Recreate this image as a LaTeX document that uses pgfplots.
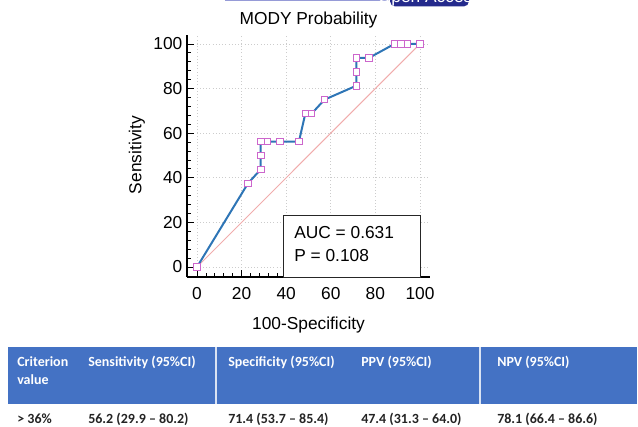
\documentclass[border=0pt]{standalone}
\usepackage{fontspec}
\setmainfont{Liberation Sans}
\newfontfamily\carlito{Carlito}
\usepackage{pgfplots}
\pgfplotsset{compat=1.18}
\definecolor{rocblue}{RGB}{46,117,182}
\definecolor{markpink}{RGB}{204,102,204}
\definecolor{diagpink}{RGB}{240,172,172}
\definecolor{hdrblue}{RGB}{68,114,196}
\definecolor{badge}{RGB}{36,42,140}
\definecolor{stripe}{RGB}{150,155,215}
\definecolor{celltext}{RGB}{35,35,35}
\newcommand\chartfont{\fontsize{13}{15}\selectfont}
\newcommand\tablefont{\carlito\bfseries\fontsize{10.5}{12}\selectfont}

\begin{document}
\begin{tikzpicture}
% 1 px of the reference = 0.75pt
\useasboundingbox (0,0) rectangle (478.5pt,319.5pt);
\clip (0,0) rectangle (478.5pt,319.5pt);

\begin{scope}[x=0.75pt,y=0.75pt]
% page strip at the top
\draw[stripe, line width=0.8pt] (225,425.6) -- (389,425.6);
\fill[badge, rounded corners=4pt] (390,419.5) rectangle (469,440);
\node[white, font=\chartfont, anchor=base] at (429.5,423) {Open Access};
\node[font=\chartfont, anchor=base] at (308.5,402) {MODY Probability};
\end{scope}

\begin{axis}[
  at={(140.25pt,111.75pt)}, anchor=south west,
  scale only axis, width=182.25pt, height=181.5pt,
  xmin=-4.5, xmax=104.5, ymin=-4.5, ymax=104,
  axis x line*=bottom, axis y line*=left,
  axis line style={line width=0.9pt},
  xtick={0,20,...,100}, ytick={0,20,...,100},
  minor xtick={4,8,12,16,24,28,32,36,44,48,52,56,64,68,72,76,84,88,92,96},
  minor ytick={4,8,12,16,24,28,32,36,44,48,52,56,64,68,72,76,84,88,92,96},
  tick align=inside,
  major tick length=5pt, minor tick length=3pt,
  tick style={black, line width=0.6pt},
  grid=major, major grid style={dotted, black!20, line width=0.5pt},
  minor grid style={draw=none},
  ticklabel style={font=\chartfont},
  /pgf/number format/assume math mode=true,
  xticklabel style={yshift=-4pt},
  clip=false,
]
\addplot[diagpink, line width=0.75pt, forget plot] coordinates {(0,0) (100,100)};
\addplot[rocblue, line width=1.5pt, mark=square*, mark size=2.4pt,
  mark options={draw=markpink, fill=white, line width=0.6pt}] coordinates {
  (0,0) (22.857,37.5) (28.571,43.75) (28.571,50) (28.571,56.25)
  (31.429,56.25) (37.143,56.25) (45.714,56.25) (48.571,68.75)
  (51.429,68.75) (57.143,75) (71.429,81.25) (71.429,87.5)
  (71.429,93.75) (77.143,93.75) (88.571,100) (91.429,100)
  (94.286,100) (100,100)};
\draw[black!85, line width=0.7pt, fill=white] (axis cs:38.7,-4.5) rectangle (axis cs:100,23.3);
\node[anchor=base west, inner sep=0, font=\chartfont] at (axis cs:43.5,12.9) {AUC = 0.631};
\node[anchor=base west, inner sep=0, font=\chartfont] at (axis cs:43.5,2.4) {P = 0.108};
\end{axis}

\begin{scope}[x=0.75pt,y=0.75pt]
\node[font=\chartfont, rotate=90] at (137,271) {Sensitivity};
\node[font=\chartfont, anchor=base] at (308.5,97) {100-Specificity};

% table below the chart
\fill[hdrblue] (8,22) rectangle (637,79);
\draw[white!80!hdrblue, line width=0.9pt] (216,22) -- (216,79);
\draw[white!80!hdrblue, line width=0.9pt] (480,22) -- (480,79);
\begin{scope}[every node/.style={anchor=base west, inner sep=0, font=\tablefont}]
\node[white] at (17,59.3) {Criterion};
\node[white] at (17,41.7) {value};
\node[white] at (88,59.3) {Sensitivity (95\%CI)};
\node[white] at (228,59.3) {Specificity (95\%CI)};
\node[white] at (361,59.3) {PPV (95\%CI)};
\node[white] at (497,59.3) {NPV (95\%CI)};
\node[celltext] at (17,3) {> 36\%};
\node[celltext] at (88,3) {56.2 (29.9 – 80.2)};
\node[celltext] at (228,3) {71.4 (53.7 – 85.4)};
\node[celltext] at (361,3) {47.4 (31.3 – 64.0)};
\node[celltext] at (497,3) {78.1 (66.4 – 86.6)};
\end{scope}
\end{scope}
\end{tikzpicture}
\end{document}
